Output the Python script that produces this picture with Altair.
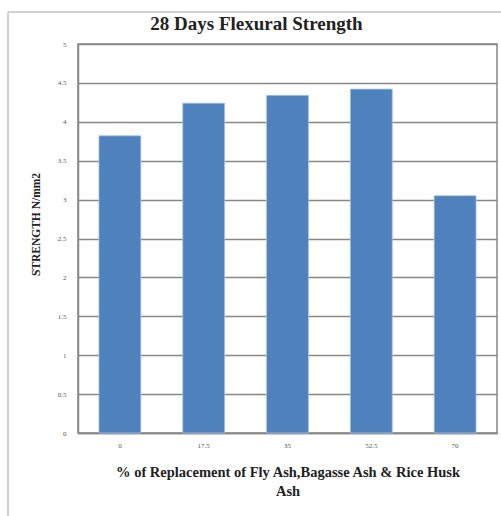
import altair as alt
import pandas as pd

categories = ["0", "17.5", "35", "52.5", "70"]
strength = [3.82, 4.24, 4.34, 4.42, 3.05]

df = pd.DataFrame({"replacement": categories, "strength": strength})

FONT = "Liberation Serif"

bars = alt.Chart(df).mark_bar(color="#4f81bd", stroke="#a9c4e4", strokeWidth=0.8).encode(
    x=alt.X("replacement:N", sort=categories,
            scale=alt.Scale(paddingInner=0.5, paddingOuter=0.25),
            axis=alt.Axis(title=["% of Replacement of Fly Ash,Bagasse Ash & Rice Husk", "Ash"],
                          labelAngle=0, ticks=False, labelPadding=8,
                          titlePadding=17, titleLineHeight=19)),
    y=alt.Y("strength:Q", scale=alt.Scale(domain=[0, 5]),
            axis=alt.Axis(title="STRENGTH N/mm2", values=[0, 0.5, 1, 1.5, 2, 2.5, 3, 3.5, 4, 4.5, 5],
                          format="~g", ticks=False, labelPadding=12, titlePadding=16,
                          titleY=180, titleAlign="center")),
)

border = alt.Chart(df).mark_rect(filled=False, stroke="#d0d0d0", strokeWidth=1).encode(
    x=alt.value(-70), x2=alt.value(440), y=alt.value(-32), y2=alt.value(500)
)

chart = alt.layer(border, bars).properties(
    width=419, height=389,
    title=alt.TitleParams("28 Days Flexural Strength", font=FONT, fontSize=19, fontWeight="bold",
                          color="#222", dx=-31, dy=22, offset=0),
    autosize=alt.AutoSizeParams(type="none"),
    padding={"left": 78, "top": 44, "right": 4, "bottom": 83},
).configure_view(stroke="#888", strokeWidth=1.5).configure_axis(
    labelFont=FONT, labelFontSize=7, labelColor="#555",
    titleFont=FONT, titleFontSize=14.5, titleFontWeight="bold", titleColor="#222",
    domainColor="#888", domainWidth=1.5, gridColor="#888", gridWidth=1.3,
).configure_axisX(grid=False).configure_axisY(titleFontSize=11.5)

chart.save("out.html", embed_options={"renderer": "svg", "actions": False})
